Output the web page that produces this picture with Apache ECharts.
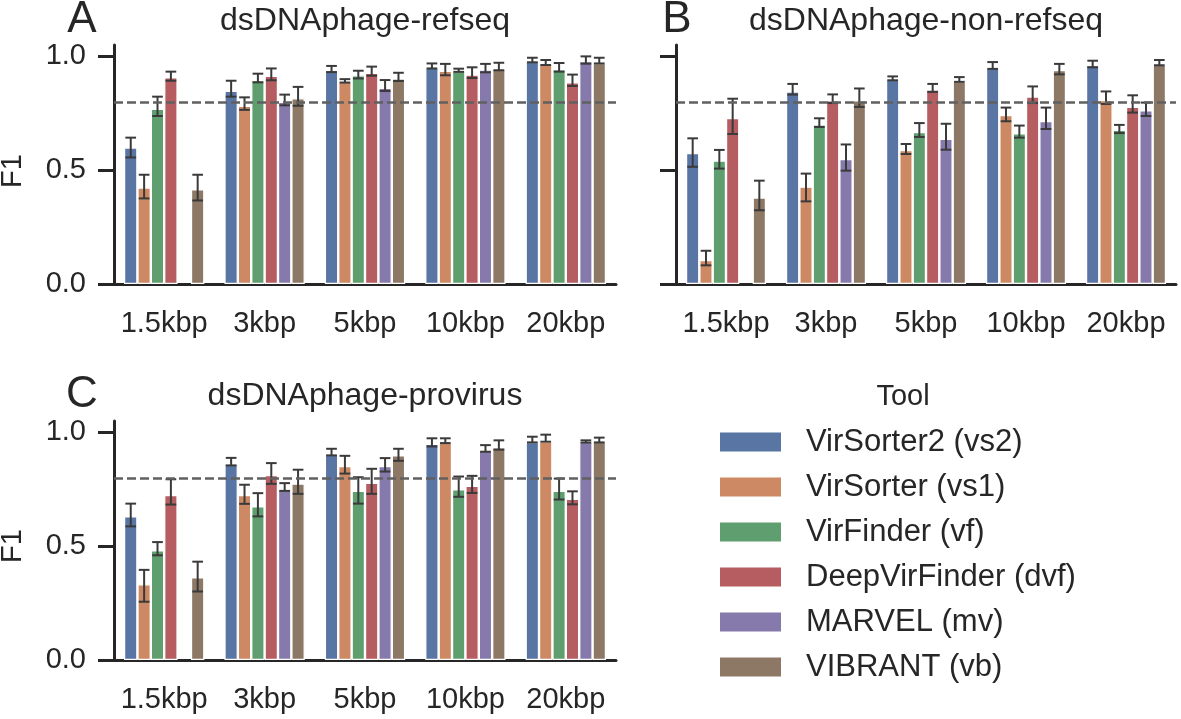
<!DOCTYPE html>
<html>
<head>
<meta charset="utf-8">
<script src="https://cdn.jsdelivr.net/npm/echarts@6/dist/echarts.min.js"></script>
<style>
html,body{margin:0;padding:0;background:#fff;}
#c{width:1181px;height:719px;}
</style>
</head>
<body>
<div id="c"></div>
<script>
// ---------- data ----------
const categories = ['1.5kbp', '3kbp', '5kbp', '10kbp', '20kbp'];
const tools = ['VirSorter2 (vs2)', 'VirSorter (vs1)', 'VirFinder (vf)', 'DeepVirFinder (dvf)', 'MARVEL (mv)', 'VIBRANT (vb)'];
const colors = ['#5975a4', '#cc8963', '#5f9e6e', '#b55d60', '#857aab', '#8d7866'];
const yTicks = [0, 0.5, 1.0];
const threshold = 0.8;
const panelTitles = ['dsDNAphage-refseq', 'dsDNAphage-non-refseq', 'dsDNAphage-provirus'];
const panelLetters = ['A', 'B', 'C'];

// rows = tools (vs2, vs1, vf, dvf, mv, vb); columns = categories
const refseqMean = [
  [0.600, 0.849, 0.940, 0.950, 0.981],
  [0.424, 0.783, 0.889, 0.937, 0.967],
  [0.770, 0.896, 0.917, 0.934, 0.943],
  [0.908, 0.915, 0.928, 0.920, 0.886],
  [null, 0.801, 0.862, 0.942, 0.980],
  [0.416, 0.816, 0.903, 0.946, 0.971]
];
const refseqLo = [
  [0.556, 0.823, 0.931, 0.947, 0.974],
  [0.376, 0.765, 0.885, 0.917, 0.962],
  [0.738, 0.886, 0.903, 0.932, 0.933],
  [0.893, 0.895, 0.915, 0.905, 0.870],
  [null, 0.785, 0.848, 0.930, 0.968],
  [0.367, 0.783, 0.892, 0.939, 0.969]
];
const refseqHi = [
  [0.643, 0.893, 0.958, 0.969, 0.994],
  [0.480, 0.820, 0.900, 0.967, 0.984],
  [0.823, 0.924, 0.937, 0.946, 0.971],
  [0.933, 0.947, 0.955, 0.952, 0.920],
  [null, 0.832, 0.896, 0.967, 1.000],
  [0.480, 0.866, 0.928, 0.972, 0.994]
];

const nonRefseqMean = [
  [0.575, 0.846, 0.899, 0.949, 0.962],
  [0.105, 0.428, 0.589, 0.742, 0.808],
  [0.542, 0.701, 0.668, 0.662, 0.677],
  [0.729, 0.807, 0.854, 0.824, 0.779],
  [null, 0.549, 0.638, 0.716, 0.763],
  [0.380, 0.807, 0.889, 0.940, 0.963]
];
const nonRefseqLo = [
  [0.515, 0.832, 0.895, 0.945, 0.952],
  [0.082, 0.363, 0.571, 0.715, 0.791],
  [0.507, 0.690, 0.646, 0.643, 0.663],
  [0.659, 0.795, 0.844, 0.795, 0.753],
  [null, 0.498, 0.590, 0.681, 0.738],
  [0.324, 0.778, 0.888, 0.921, 0.961]
];
const nonRefseqHi = [
  [0.640, 0.879, 0.912, 0.975, 0.981],
  [0.146, 0.485, 0.615, 0.775, 0.846],
  [0.589, 0.728, 0.707, 0.696, 0.699],
  [0.814, 0.833, 0.879, 0.868, 0.829],
  [null, 0.613, 0.704, 0.775, 0.797],
  [0.454, 0.859, 0.909, 0.967, 0.984]
];

const provirusMean = [
  [0.631, 0.862, 0.906, 0.950, 0.957],
  [0.333, 0.725, 0.852, 0.954, 0.960],
  [0.482, 0.675, 0.743, 0.750, 0.743],
  [0.725, 0.813, 0.778, 0.765, 0.708],
  [null, 0.750, 0.852, 0.924, 0.957],
  [0.363, 0.775, 0.899, 0.934, 0.960]
];
const provirusLo = [
  [0.587, 0.855, 0.899, 0.938, 0.956],
  [0.256, 0.686, 0.819, 0.953, 0.959],
  [0.460, 0.631, 0.687, 0.717, 0.705],
  [0.683, 0.774, 0.730, 0.734, 0.684],
  [null, 0.743, 0.828, 0.915, 0.955],
  [0.301, 0.730, 0.875, 0.924, 0.956]
];
const provirusHi = [
  [0.687, 0.888, 0.928, 0.974, 0.981],
  [0.396, 0.770, 0.897, 0.974, 0.990],
  [0.518, 0.733, 0.803, 0.806, 0.797],
  [0.794, 0.865, 0.840, 0.809, 0.741],
  [null, 0.777, 0.887, 0.944, 0.965],
  [0.432, 0.836, 0.928, 0.965, 0.977]
];

// ---------- build ----------
const FONT = '"Liberation Sans", Arial, sans-serif';
const INK = '#262626';
const panels = [
  {mean: refseqMean, lo: refseqLo, hi: refseqHi, grid: {left: 114, top: 45, width: 502, height: 239}, yLabels: true},
  {mean: nonRefseqMean, lo: nonRefseqLo, hi: nonRefseqHi, grid: {left: 676, top: 45, width: 500, height: 239}, yLabels: false},
  {mean: provirusMean, lo: provirusLo, hi: provirusHi, grid: {left: 114, top: 421, width: 502, height: 239}, yLabels: true}
];

const grids = [], xAxes = [], yAxes = [], series = [];
panels.forEach((p, pi) => {
  grids.push(Object.assign({containLabel: false}, p.grid));
  xAxes.push({
    type: 'category', gridIndex: pi, data: categories,
    axisLine: {lineStyle: {color: INK, width: 3}},
    axisTick: {alignWithLabel: true, length: 16, lineStyle: {color: INK, width: 3}},
    axisLabel: {interval: 0, fontSize: 29, fontFamily: FONT, color: INK, margin: 25},
    splitLine: {show: false}
  });
  yAxes.push({
    type: 'value', gridIndex: pi, min: 0, max: 1.05,
    axisLine: {show: true, lineStyle: {color: INK, width: 3}},
    axisTick: {show: true, length: 16, customValues: yTicks, lineStyle: {color: INK, width: 3}},
    axisLabel: {show: p.yLabels, customValues: yTicks, fontSize: 29, fontFamily: FONT, color: INK, margin: 28,
      formatter: v => v.toFixed(1)},
    splitLine: {show: false}
  });
  tools.forEach((t, ti) => {
    series.push({
      type: 'bar', name: t, xAxisIndex: pi, yAxisIndex: pi,
      data: p.mean[ti],
      barGap: '0%', barCategoryGap: '20%',
      itemStyle: {color: colors[ti], borderColor: '#ffffff', borderWidth: 1.2},
      emphasis: {disabled: true},
      z: 2
    });
  });
  tools.forEach((t, ti) => {
    const errData = [];
    categories.forEach((c, ci) => {
      if (p.lo[ti][ci] != null) errData.push([ci, p.lo[ti][ci], p.hi[ti][ci]]);
    });
    series.push({
      type: 'custom', name: t + ' err', xAxisIndex: pi, yAxisIndex: pi,
      data: errData, z: 4, silent: true,
      encode: {x: 0, y: [1, 2]},
      renderItem: (params, api) => {
        const ci = api.value(0);
        const lo = api.coord([ci, api.value(1)]);
        const hi = api.coord([ci, api.value(2)]);
        const band = api.size([1, 0])[0];
        const pitch = band * 0.8 / tools.length;
        const x = lo[0] + (ti - (tools.length - 1) / 2) * pitch;
        const cap = pitch * 0.4;
        const st = {stroke: '#3a3a3a', lineWidth: 2};
        return {type: 'group', children: [
          {type: 'line', shape: {x1: x, y1: lo[1], x2: x, y2: hi[1]}, style: st},
          {type: 'line', shape: {x1: x - cap, y1: lo[1], x2: x + cap, y2: lo[1]}, style: st},
          {type: 'line', shape: {x1: x - cap, y1: hi[1], x2: x + cap, y2: hi[1]}, style: st}
        ]};
      }
    });
  });
  series.push({
    type: 'line', name: 'threshold' + pi, xAxisIndex: pi, yAxisIndex: pi, data: [], z: 6, silent: true,
    markLine: {
      silent: true, symbol: ['none', 'none'], label: {show: false},
      lineStyle: {type: [9, 4], color: '#606060', width: 2.6},
      data: [{yAxis: threshold}],
      animation: false
    }
  });
});

const graphics = [];
const titleCenters = [[365, 21], [926, 21], [365, 396]];
const letterPos = [[82, 20], [677, 20], [82, 395]];
panelTitles.forEach((t, i) => {
  graphics.push({type: 'text', x: titleCenters[i][0], y: titleCenters[i][1],
    style: {text: t, fontSize: 32, fontFamily: FONT, fill: INK, textAlign: 'center', textVerticalAlign: 'middle'}});
  graphics.push({type: 'text', x: letterPos[i][0], y: letterPos[i][1],
    style: {text: panelLetters[i], fontSize: 44, fontFamily: FONT, fill: INK, textAlign: 'center', textVerticalAlign: 'middle'}});
});
[[13, 171], [13, 546]].forEach(pos => {
  graphics.push({type: 'text', x: pos[0], y: pos[1], rotation: Math.PI / 2,
    style: {text: 'F1', fontSize: 29, fontFamily: FONT, fill: INK, textAlign: 'center', textVerticalAlign: 'middle'}});
});
graphics.push({type: 'text', x: 903, y: 397,
  style: {text: 'Tool', fontSize: 29, fontFamily: FONT, fill: INK, textAlign: 'center', textVerticalAlign: 'middle'}});

const chart = echarts.init(document.getElementById('c'), null, {renderer: 'canvas'});
chart.setOption({
  animation: false,
  backgroundColor: '#ffffff',
  grid: grids, xAxis: xAxes, yAxis: yAxes, series: series,
  graphic: graphics,
  legend: {
    data: tools, orient: 'vertical', left: 715, top: 421,
    itemWidth: 61, itemHeight: 19, itemGap: 13,
    icon: 'rect',
    itemStyle: {borderWidth: 0},
    selectedMode: false,
    textStyle: {fontSize: 31, fontFamily: FONT, color: INK, lineHeight: 32, padding: [0, 0, 0, 20]}
  }
});
</script>
</body>
</html>
